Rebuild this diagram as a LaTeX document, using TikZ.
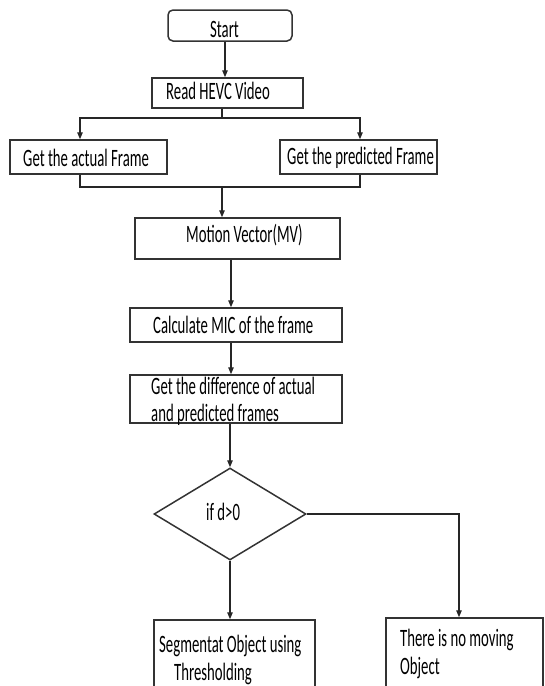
\documentclass[tikz,border=0pt]{standalone}
\usepackage{fontspec}
\setmainfont{Carlito}[FakeStretch=0.59]
\usetikzlibrary{arrows.meta,shapes.geometric}
\begin{document}
\begin{tikzpicture}[x=1pt,y=-1pt,
  box/.style={draw=black!80,line width=1.5pt,rectangle,inner sep=0pt},
  txt/.style={font=\fontsize{25}{30}\selectfont,inner sep=0pt,anchor=base west,text=black},
  arr/.style={draw=black!85,line width=1.3pt,-{Triangle[length=7pt,width=5.5pt]}},
  ln/.style={draw=black!85,line width=1.3pt}]
\useasboundingbox (0,0) rectangle (544,686);
\clip (0,0) rectangle (544,686);
% boxes
\node[box,rounded corners=5pt,minimum width=124pt,minimum height=31pt] (start) at (230,25.5) {};
\node[box,minimum width=151pt,minimum height=30pt] (read) at (227.5,93) {};
\node[box,minimum width=157pt,minimum height=34pt] (actual) at (88.5,157) {};
\node[box,minimum width=157pt,minimum height=34pt] (pred) at (358.5,157) {};
\node[box,minimum width=205pt,minimum height=41pt] (motion) at (237.5,238.5) {};
\node[box,minimum width=212pt,minimum height=34pt] (calc) at (236,325) {};
\node[box,minimum width=212pt,minimum height=48pt] (diff) at (236,399) {};
\node[box,shape=diamond,minimum width=152pt,minimum height=92pt] (dec) at (230,514) {};
\node[box,minimum width=161pt,minimum height=90pt] (seg) at (234.5,665) {};
\node[box,minimum width=157pt,minimum height=90pt] (none) at (464.5,663) {};
% texts
\node[txt] (tstart) at (210,37) {Start};
\node[txt] (tread) at (166,99) {Read HEVC Video};
\node[txt] (tactual) at (23,166) {Get the actual Frame};
\node[txt] (tpred) at (287,164) {Get the predicted Frame};
\node[txt] (tmotion) at (186,242) {Motion Vector(MV)};
\node[txt] (tcalc) at (153,333) {Calculate MIC of the frame};
\node[txt] (tdiff1) at (151,394) {Get the difference of actual};
\node[txt] (tdiff2) at (151,421) {and predicted frames};
\node[txt] (tdec) at (206,520) {if d>0};
\node[txt] (tseg1) at (159,652) {Segmentat Object using};
\node[txt] (tseg2) at (174,680) {Thresholding};
\node[txt] (tnone1) at (400,646) {There is no moving};
\node[txt] (tnone2) at (400,674) {Object};
% connectors
\draw[arr] ([xshift=-5pt]start.south) -- ([xshift=-2.5pt]read.north);
\coordinate (sp) at (222,118);
\draw[ln] ([xshift=-5.5pt]read.south) -- (sp);
\draw[arr] (sp) -| ([xshift=-8.5pt]actual.north);
\draw[arr] (sp) -| ([xshift=1.5pt]pred.north);
\coordinate (mg) at (222,187);
\draw[ln] ([xshift=-8.5pt]actual.south) |- (mg) -| ([xshift=1.5pt]pred.south);
\draw[arr] (mg) -- ([xshift=-15.5pt]motion.north);
\draw[arr] ([xshift=-6.5pt]motion.south) -- ([xshift=-5pt]calc.north);
\draw[arr] ([xshift=-5pt]calc.south) -- ([xshift=-5pt]diff.north);
\draw[arr] (diff.south -| dec.north) -- (dec.north);
\draw[arr] (dec.south) -- (dec.south |- seg.north);
\draw[arr] (dec.east) -| ([xshift=-5.5pt]none.north);
\end{tikzpicture}
\end{document}
